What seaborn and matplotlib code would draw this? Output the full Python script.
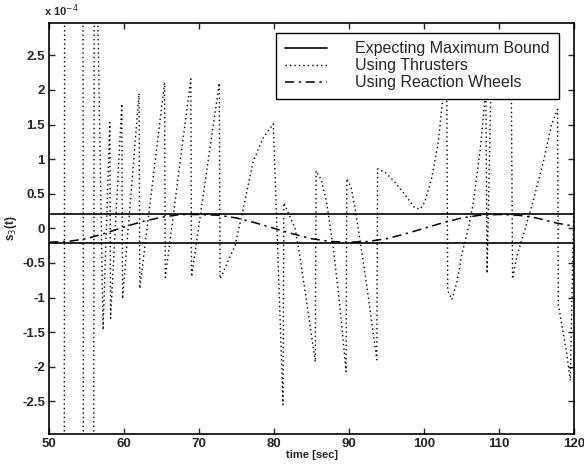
import numpy as np
import pandas as pd
import matplotlib
matplotlib.use("Agg")
import matplotlib.pyplot as plt
from matplotlib.lines import Line2D
import seaborn as sns

# values in units of 1e-4
bound = 0.21

thr_t = [50.0, 52.0, 52.1, 54.5, 54.6, 55.9, 56.05, 57.2, 58.1, 58.2,
         59.7, 59.8, 62.0, 62.1, 65.4, 65.5, 68.9, 69.0, 72.7, 72.8,
         74.8, 75.9, 77.2, 78.5, 79.9, 81.2, 81.3, 82.8, 83.5, 85.5,
         85.6, 86.3, 87.0, 87.9, 88.8, 89.6, 89.7, 90.3, 90.8, 91.5,
         92.4, 93.7, 93.8, 94.8, 96.1, 97.5, 98.8, 99.5, 100.1, 101.0,
         101.9, 102.5, 103.0, 103.15, 103.7, 104.4, 105.0, 105.9, 106.5, 107.5,
         108.1, 108.2, 108.4, 109.0, 111.6, 111.8, 112.4, 113.5, 114.5, 115.9,
         117.0, 117.8, 117.9, 119.0, 119.5, 120.0]
thr_v = [-8.0, -8.0, 8.0, 8.0, -8.0, -8.0, 6.0, -1.47, 1.53, -1.3,
         1.8, -1.02, 1.95, -0.87, 2.1, -0.71, 2.16, -0.70, 2.1, -0.73,
         -0.25, 0.29, 0.96, 1.3, 1.51, -2.55, 0.37, 0.0, -0.44, -1.93,
         0.83, 0.7, 0.38, -0.29, -1.15, -2.07, 0.72, 0.58, 0.29, -0.2,
         -0.86, -1.9, 0.86, 0.81, 0.67, 0.48, 0.29, 0.28, 0.38, 0.72,
         1.25, 1.88, 2.75, -0.9, -1.03, -0.77, -0.39, 0.0, 0.33, 1.15,
         1.86, 2.6, -0.65, 2.5, 2.7, -0.73, -0.39, 0.0, 0.38, 0.96,
         1.5, 1.72, -1.1, -1.8, -2.2, 0.52]

rw_t = [50, 52.5, 55, 57.5, 60, 62.5, 65, 67.5, 70, 72.5, 75, 77.5, 80, 82.5, 85,
        87.5, 90, 92.5, 95, 97.5, 100, 102.5, 105, 107.5, 110, 112.5, 115, 117.5, 120]
rw_v = [-0.20, -0.19, -0.15, -0.07, 0.02, 0.10, 0.16, 0.20, 0.20, 0.19, 0.15, 0.08,
        0.0, -0.08, -0.15, -0.19, -0.20, -0.19, -0.15, -0.08, 0.0, 0.08, 0.15,
        0.19, 0.20, 0.19, 0.15, 0.08, 0.03]

thr = pd.DataFrame({"t": thr_t, "v": thr_v})
rw = pd.DataFrame({"t": rw_t, "v": rw_v})

sns.set_style("ticks")
plt.rcParams["font.family"] = ["Liberation Sans", "DejaVu Sans"]

fig = plt.figure(figsize=(5.84, 4.66), dpi=100)
ax = fig.add_axes([0.084, 0.069, 0.899, 0.882])

dot = (0, (1, 2.2))
dashdot = (0, (6, 3, 1.5, 3))

ax.axhline(bound, color="k", lw=1.2)
ax.axhline(-bound, color="k", lw=1.2)
sns.lineplot(data=thr, x="t", y="v", ax=ax, color="k", lw=1.0, linestyle=dot,
             sort=False, estimator=None)
sns.lineplot(data=rw, x="t", y="v", ax=ax, color="k", lw=1.1, linestyle=dashdot,
             sort=False, estimator=None)

ax.set_xlim(50, 120)
ax.set_ylim(-2.97, 2.97)
ax.set_xticks(np.arange(50, 121, 10))
ax.set_yticks(np.arange(-2.5, 2.51, 0.5))
ax.set_yticklabels(["-2.5", "-2", "-1.5", "-1", "-0.5", "0", "0.5", "1", "1.5", "2", "2.5"])
ax.tick_params(direction="in", top=True, right=True, length=4, width=1,
               labelsize=9.5, pad=3)
for lab in ax.get_xticklabels() + ax.get_yticklabels():
    lab.set_fontweight("bold")
for s in ax.spines.values():
    s.set_linewidth(1.2)
    s.set_color("k")

ax.set_xlabel("time [sec]", fontsize=8, fontweight="bold", labelpad=0)
ax.set_ylabel("s$_3$(t)", fontsize=8.5, fontweight="bold", labelpad=2)
ax.annotate("x 10$^{-4}$", xy=(0, 1), xycoords="axes fraction", xytext=(-4, 3),
            textcoords="offset points", fontsize=8, fontweight="bold", ha="left", va="bottom")

handles = [
    Line2D([], [], color="k", lw=1.2),
    Line2D([], [], color="k", lw=1.0, linestyle=dot),
    Line2D([], [], color="k", lw=1.1, linestyle=dashdot),
]
labels = ["Expecting Maximum Bound", "Using Thrusters", "Using Reaction Wheels"]
leg = ax.legend(handles, labels, loc="upper right", bbox_to_anchor=(0.971, 0.976),
                fontsize=11.5, frameon=True, fancybox=False, framealpha=1,
                edgecolor="k", handlelength=2.6, handletextpad=1.8,
                borderpad=0.55, labelspacing=0.12, borderaxespad=0)
leg.get_frame().set_linewidth(1.0)

fig.savefig("out.png", dpi=100)
